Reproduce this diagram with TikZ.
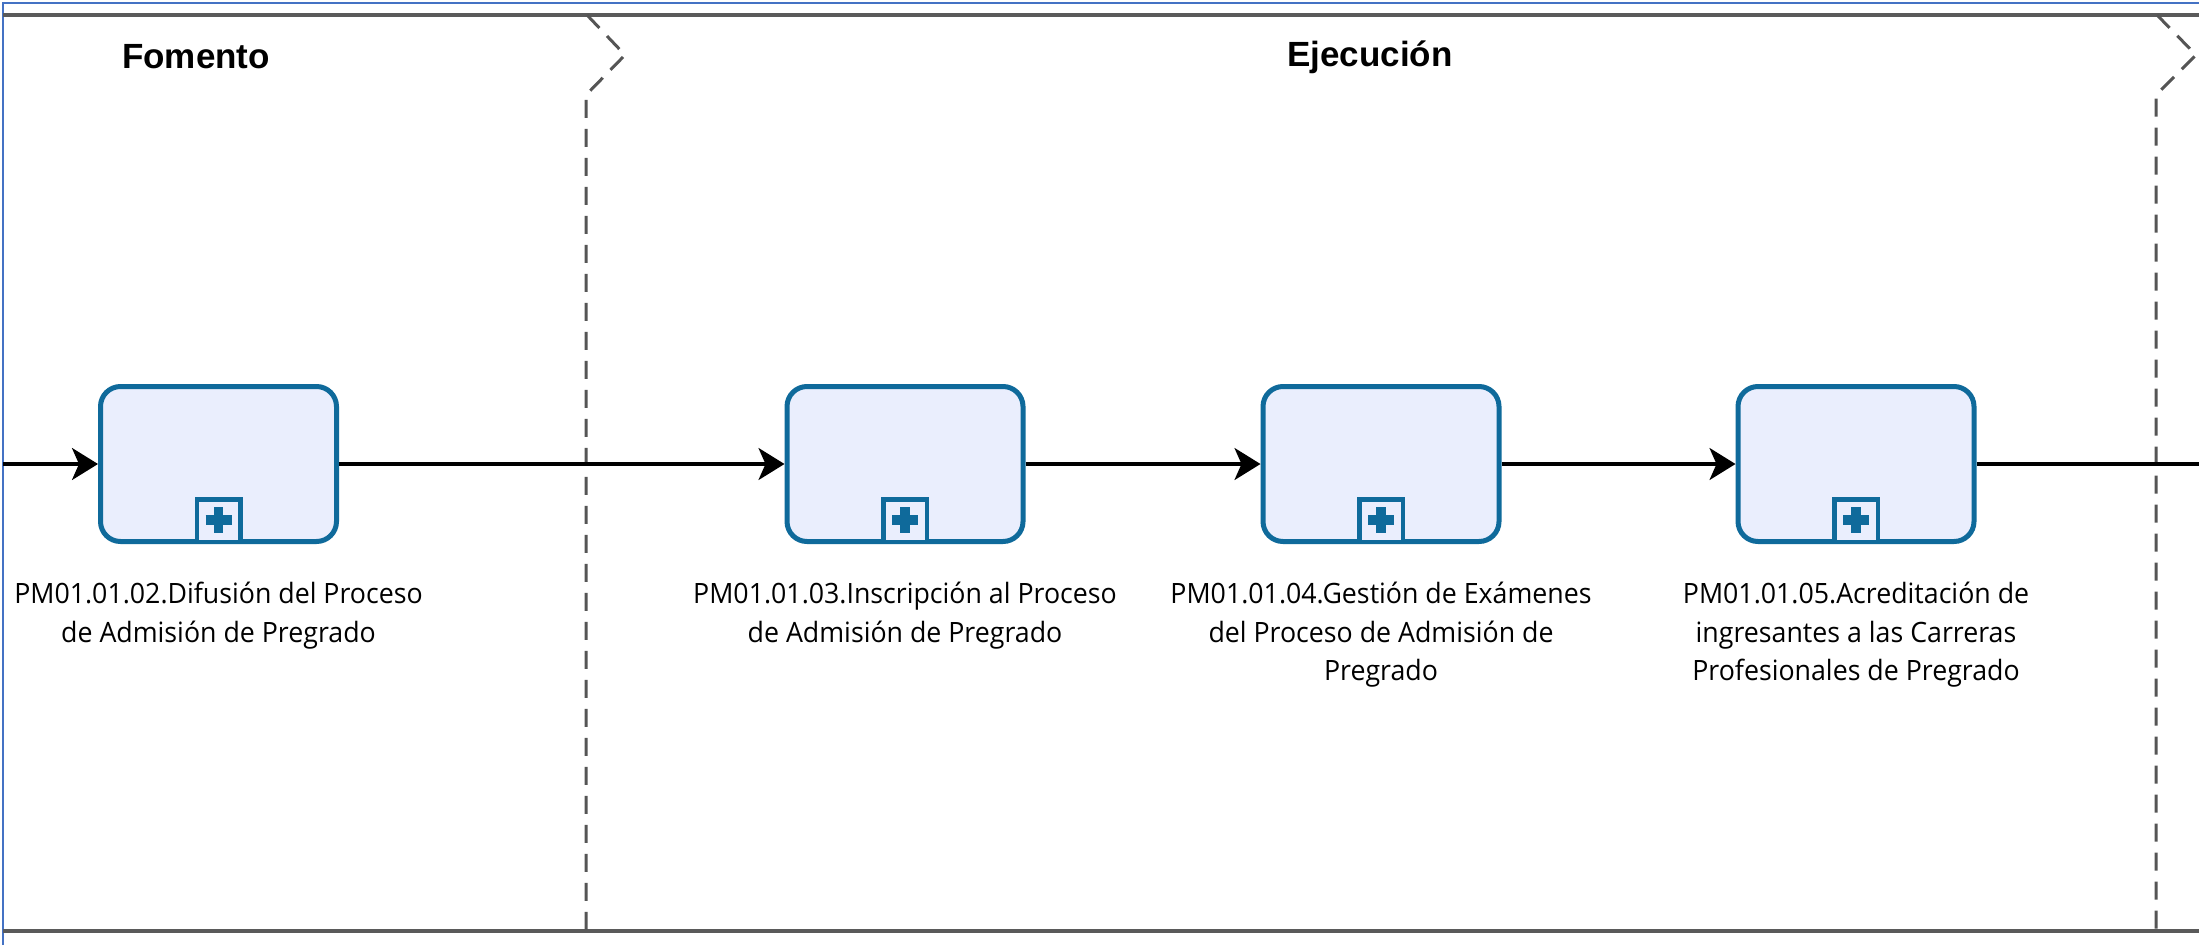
\documentclass[tikz,border=0pt]{standalone}
\usepackage{fontspec}
\setmainfont{Liberation Sans}
\newfontfamily\lblfont[FakeStretch=0.955]{Open Sans}
\newfontfamily\ttlfont{Liberation Sans}
\usetikzlibrary{arrows.meta}
\definecolor{taskline}{HTML}{0F6A9B}
\definecolor{taskfill}{HTML}{EAEEFD}
\definecolor{lanegray}{HTML}{5A5A5A}
\definecolor{dashgray}{HTML}{555555}
\definecolor{frameblue}{HTML}{4472C4}
\tikzset{
  task/.style={draw=taskline, fill=taskfill, line width=5pt, rounded corners=20pt,
    minimum width=236pt, minimum height=155pt, inner sep=0pt},
  marker/.style={draw=taskline, fill=taskfill, line width=4.5pt, minimum width=43.5pt,
    minimum height=42.5pt, inner sep=0pt, anchor=south},
  plusbar/.style={draw=taskline, line width=9.5pt},
  flowline/.style={draw=black, line width=3.2pt},
  flowarrow/.style={flowline, -{Stealth[length=26pt, width=32pt, inset=7pt]}},
  divider/.style={draw=dashgray, line width=3pt, dash pattern=on 18pt off 11pt},
  laneedge/.style={draw=lanegray, line width=4pt},
  ttl/.style={font=\ttlfont\bfseries\fontsize{35}{42}\selectfont, inner sep=0pt},
  lbl/.style={font=\lblfont\fontsize{28}{38.5}\selectfont, align=center, anchor=north, inner sep=0pt}
}
\begin{document}
\begin{tikzpicture}[x=1pt,y=-1pt]
\useasboundingbox (0,0) rectangle (2199,945);
\fill[white] (0,0) rectangle (2199,945);
% frame
\draw[frameblue, line width=2pt] (3,945) -- (3,3) -- (2199,3);
% lane edges
\draw[laneedge] (3,15) -- (2199,15);
\draw[laneedge] (3,931) -- (2199,931);
% phase dividers
\draw[divider] (587,15) -- (625,55) -- (586,95) -- (586,931);
\draw[divider] (2157,15) -- (2196,55) -- (2156,95) -- (2156,931);
% titles
\node[ttl] (fom) at (196,57) {Fomento};
\node[ttl] (eje) at (1370,57) {Ejecución};
% tasks
\node[task] (t1) at (218.5,464) {};
\node[task] (t2) at (905,464) {};
\node[task] (t3) at (1381,464) {};
\node[task] (t4) at (1856,464) {};
\foreach \t in {t1,t2,t3,t4}{
  \node[marker] (m\t) at ([yshift=-0.25pt]\t.south) {};
  \draw[plusbar] ([xshift=-13pt,yshift=1pt]m\t.center) -- ([xshift=13pt,yshift=1pt]m\t.center);
  \draw[plusbar] ([yshift=-12pt]m\t.center) -- ([yshift=14pt]m\t.center);
}
% labels
\node[lbl] (l1) at (218.5,582) {PM01.01.02.Difusión del Proceso\\de Admisión de Pregrado};
\node[lbl] (l2) at (905,582) {PM01.01.03.Inscripción al Proceso\\de Admisión de Pregrado};
\node[lbl] (l3) at (1381,582) {PM01.01.04.Gestión de Exámenes\\del Proceso de Admisión de\\Pregrado};
\node[lbl] (l4) at (1856,582) {PM01.01.05.Acreditación de\\ingresantes a las Carreras\\Profesionales de Pregrado};
% flows
\coordinate (fin) at (3,464);
\coordinate (fout) at (2199,464);
\draw[flowarrow] (fin) -- (t1.west);
\draw[flowarrow] (t1.east) -- (t2.west);
\draw[flowarrow] (t2.east) -- (t3.west);
\draw[flowarrow] (t3.east) -- (t4.west);
\draw[flowline] (t4.east) -- (fout);
\end{tikzpicture}
\end{document}
